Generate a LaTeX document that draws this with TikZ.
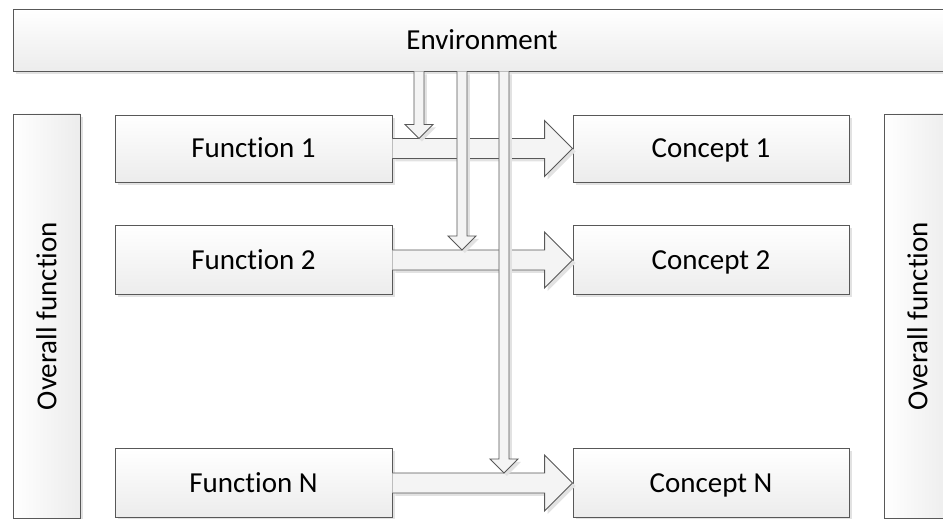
\documentclass[tikz,border=0pt]{standalone}
\usepackage{fontspec}
\setmainfont{Carlito}[Ligatures=NoCommon]
\usetikzlibrary{calc,shadows}

\definecolor{edge}{RGB}{88,88,88}
\definecolor{shade}{RGB}{236,236,236}
\definecolor{arrowfill}{RGB}{244,244,244}
\definecolor{shadowgray}{RGB}{226,226,226}

\tikzset{
  softshadow/.style={drop shadow={shadow xshift=3pt, shadow yshift=-3pt,
      fill=shadowgray, opacity=1}},
  boxbase/.style={draw=edge, line width=0.9pt, inner sep=0pt,
      font=\fontsize{29}{34}\selectfont, softshadow},
  capcentred/.style={text height=18.7pt, text depth=0pt},
  box/.style={boxbase, capcentred, top color=white, bottom color=shade,
      minimum width=277pt, minimum height=69pt},
  sidebox/.style={boxbase, left color=white, right color=shade,
      minimum width=67pt, minimum height=404pt},
  blockarrow/.style={draw=edge, line width=0.9pt, fill=arrowfill,
      line join=miter, softshadow},
}

% horizontal block arrow from node #1 to node #2
\newcommand{\hblock}[2]{%
  \path[blockarrow] let \p1=(#1.east), \p2=(#2.west) in
    (\x1,\y1+10pt) -- (\x2-28pt,\y1+10pt) -- (\x2-28pt,\y1+28pt)
    -- (\x2,\y1) -- (\x2-28pt,\y1-28pt) -- (\x2-28pt,\y1-10pt)
    -- (\x1,\y1-10pt);
}
% downward block arrow from the environment bar to coordinate #1
\newcommand{\vblock}[1]{%
  \path[blockarrow] let \p1=(env.south), \p2=(#1) in
    (\x2-5pt,\y1) -- (\x2-5pt,\y2+14pt) -- (\x2-14pt,\y2+14pt)
    -- (\x2,\y2) -- (\x2+14pt,\y2+14pt) -- (\x2+5pt,\y2+14pt)
    -- (\x2+5pt,\y1);
}

\begin{document}
\begin{tikzpicture}[x=1pt,y=1pt]
  \useasboundingbox (0,0) rectangle (943,519);
  \clip (0,0) rectangle (943,519);

  % environment bar
  \node[boxbase, capcentred, top color=white, bottom color=shade,
        minimum width=938pt, minimum height=62pt] (env) at (482,479) {Environment};

  % side bars
  \node[sidebox] (ovl) at (46.5,203) {\rotatebox{90}{Overall function}};
  \node[sidebox] (ovr) at (917.5,203) {\rotatebox{90}{Overall function}};

  % functions and concepts
  \node[box, minimum height=67pt] (f1) at (253.5,370.5) {Function 1};
  \node[box] (f2) at (253.5,259) {Function 2};
  \node[box] (fN) at (253.5,36) {Function N};
  \node[box, minimum width=276pt, minimum height=67pt] (c1) at (711,370.5) {Concept 1};
  \node[box, minimum width=276pt] (c2) at (711,259) {Concept 2};
  \node[box, minimum width=276pt] (cN) at (711,36) {Concept N};

  % landing points of the environment arrows on the function arrows
  \coordinate (d1) at ($(f1.east)+(26.5,10)$);
  \coordinate (d2) at ($(f2.east)+(69.5,10)$);
  \coordinate (d3) at ($(fN.east)+(111.5,10)$);

  % function -> concept arrows
  \hblock{f1}{c1}
  \hblock{f2}{c2}
  \hblock{fN}{cN}

  % environment arrows
  \vblock{d1}
  \vblock{d2}
  \vblock{d3}
\end{tikzpicture}
\end{document}
